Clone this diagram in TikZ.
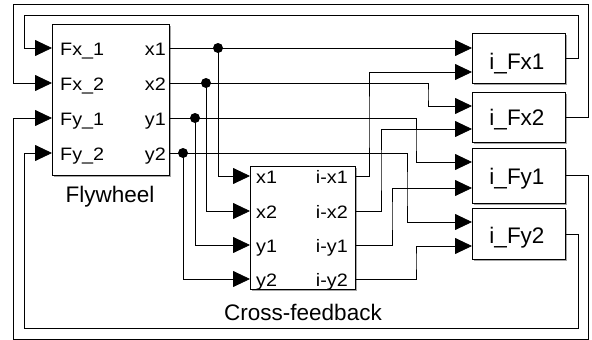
\documentclass[tikz,border=0pt]{standalone}
\usepackage{fontspec}
\setmainfont{Liberation Sans}
\newfontfamily\portfont[FakeStretch=1.1]{Liberation Sans}
\usetikzlibrary{arrows.meta,shadows}
\begin{document}
\begin{tikzpicture}[x=1pt,y=-1pt,
  blk/.style={draw, line width=1.2pt, fill=white, inner sep=0pt, anchor=north west,
    drop shadow={shadow xshift=1.3pt, shadow yshift=-1.3pt, opacity=0.35, fill=black}},
  wire/.style={line width=0.8pt},
  arr/.style={wire, -{Triangle[length=17pt,width=16pt]}},
  plab/.style={inner sep=0pt, font=\portfont\fontsize{18}{20}\selectfont},
  blab/.style={inner sep=0pt, anchor=base, font=\fontsize{22.5}{24}\selectfont},
  jdot/.style={circle, fill, inner sep=0pt, minimum size=10pt}
]
\useasboundingbox (0,0) rectangle (592,340);

% blocks
\node[blk, minimum width=117pt, minimum height=151pt] (fw) at (52,24) {};
\node[blk, minimum width=105pt, minimum height=123pt] (cf) at (250,166) {};
\node[blk, minimum width=93pt, minimum height=50pt] (ifx1) at (472,33) {};
\node[blk, minimum width=93pt, minimum height=50pt] (ifx2) at (472,92) {};
\node[blk, minimum width=93pt, minimum height=55pt] (ify1) at (472,148) {};
\node[blk, minimum width=93pt, minimum height=51pt] (ify2) at (472,208) {};

% block names
\node[blab] (fwname) at (110,202) {Flywheel};
\node[blab] (cfname) at (303,320) {Cross-feedback};
\node[blab] (ifx1name) at (517,69) {i\_Fx1};
\node[blab] (ifx2name) at (517,125) {i\_Fx2};
\node[blab] (ify1name) at (517,184) {i\_Fy1};
\node[blab] (ify2name) at (517,243) {i\_Fy2};

% flywheel port labels
\node[plab, anchor=base west] (l1) at (60,55) {Fx\_1};
\node[plab, anchor=base west] (l2) at (60,90) {Fx\_2};
\node[plab, anchor=base west] (l3) at (60,125) {Fy\_1};
\node[plab, anchor=base west] (l4) at (60,160) {Fy\_2};
\node[plab, anchor=base east] (r1) at (166,55) {x1};
\node[plab, anchor=base east] (r2) at (166,90) {x2};
\node[plab, anchor=base east] (r3) at (166,125) {y1};
\node[plab, anchor=base east] (r4) at (166,160) {y2};

% cross-feedback port labels
\node[plab, anchor=base west] (c1) at (256,183) {x1};
\node[plab, anchor=base west] (c2) at (256,218) {x2};
\node[plab, anchor=base west] (c3) at (256,252) {y1};
\node[plab, anchor=base west] (c4) at (256,286) {y2};
\node[plab, anchor=base east] (d1) at (348,183) {i-x1};
\node[plab, anchor=base east] (d2) at (348,218) {i-x2};
\node[plab, anchor=base east] (d3) at (348,252) {i-y1};
\node[plab, anchor=base east] (d4) at (348,286) {i-y2};

% port coordinates
\coordinate (fwi1) at (52,48);  \coordinate (fwi2) at (52,83);
\coordinate (fwi3) at (52,118); \coordinate (fwi4) at (52,153);
\coordinate (fwo1) at (169,48); \coordinate (fwo2) at (169,83);
\coordinate (fwo3) at (169,118);\coordinate (fwo4) at (169,153);
\coordinate (cfi1) at (250,176); \coordinate (cfi2) at (250,211);
\coordinate (cfi3) at (250,245); \coordinate (cfi4) at (250,279);
\coordinate (cfo1) at (355,176); \coordinate (cfo2) at (355,211);
\coordinate (cfo3) at (355,245); \coordinate (cfo4) at (355,279);
\coordinate (ax1) at (472,48);  \coordinate (bx1) at (472,72);
\coordinate (ax2) at (472,106); \coordinate (bx2) at (472,129);
\coordinate (ay1) at (472,162); \coordinate (by1) at (472,188);
\coordinate (ay2) at (472,222); \coordinate (by2) at (472,246);
\coordinate (ox1) at (565,58);  \coordinate (ox2) at (565,117);
\coordinate (oy1) at (565,175); \coordinate (oy2) at (565,234);

% junction dots
\node[jdot] (j1) at (218,48) {};
\node[jdot] (j2) at (206,83) {};
\node[jdot] (j3) at (195,118) {};
\node[jdot] (j4) at (183,153) {};

% flywheel outputs to i_ blocks
\draw[arr] (fwo1) -- (ax1);
\draw[arr] (fwo2) -| (428,95) |- (ax2);
\draw[arr] (fwo3) -| (416,140) |- (ay1);
\draw[arr] (fwo4) -| (407,190) |- (ay2);

% branches to cross-feedback
\draw[arr] (j1.center) |- (cfi1);
\draw[arr] (j2.center) |- (cfi2);
\draw[arr] (j3.center) |- (cfi3);
\draw[arr] (j4.center) |- (cfi4);

% cross-feedback outputs
\draw[arr] (cfo1) -| (369,120) |- (bx1);
\draw[arr] (cfo2) -| (381,170) |- (bx2);
\draw[arr] (cfo3) -| (392,215) |- (by1);
\draw[arr] (cfo4) -| (416,260) |- (by2);

% feedback loops
\draw[arr] (ox1) -- (578,58) -- (578,15) -- (24,15) -- (24,48) -- (fwi1);
\draw[arr] (ox2) -- (588,117) -- (588,4) -- (13,4) -- (13,83) -- (fwi2);
\draw[arr] (oy1) -- (588,175) -- (588,339) -- (13,339) -- (13,118) -- (fwi3);
\draw[arr] (oy2) -- (578,234) -- (578,328) -- (24,328) -- (24,153) -- (fwi4);
\end{tikzpicture}
\end{document}
